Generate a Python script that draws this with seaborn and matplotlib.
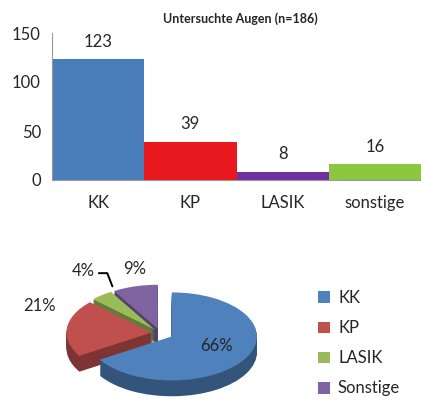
import numpy as np
import pandas as pd
import matplotlib
matplotlib.use("Agg")
import matplotlib.pyplot as plt
import matplotlib.colors as mcolors
from matplotlib.patches import Patch
import seaborn as sns

# data
cats = ["KK", "KP", "LASIK", "sonstige"]
counts = [123, 39, 8, 16]
bar_colors = ["#4a7ebb", "#e8191e", "#7030a0", "#8dc63f"]

pie_labels = ["KK", "KP", "LASIK", "Sonstige"]
pie_colors = ["#4f81bd", "#c0504d", "#9bbb59", "#8064a2"]
explode = [0.16, 0.1, 0.1, 0.1]

sns.set_style("white")
plt.rcParams["font.family"] = ["Lato", "DejaVu Sans"]

fig = plt.figure(figsize=(4.21, 4.01), dpi=100)

# ---- bar chart ----
ax = fig.add_axes([52 / 421, 221 / 401, 369 / 421, 147 / 401])
df = pd.DataFrame({"cat": cats, "n": counts})
sns.barplot(data=df, x="cat", y="n", hue="cat", palette=bar_colors,
            width=1.0, legend=False, ax=ax, saturation=1, linewidth=0)
ax.set_xlim(-0.5, 3.5)
ax.set_ylim(0, 150)
ax.set_yticks([0, 50, 100, 150])
ax.set_xlabel("")
ax.set_ylabel("")
ax.tick_params(axis="y", direction="out", length=5, color="#999999",
               labelsize=12, pad=3)
ax.tick_params(axis="x", length=0, labelsize=12, pad=11)
for s in ["top", "right"]:
    ax.spines[s].set_visible(False)
ax.spines["left"].set_color("#999999")
ax.spines["bottom"].set_color("#999999")
for i, v in enumerate(counts):
    ax.text(i, v + 10, str(v), ha="center", va="bottom", fontsize=12)
fig.text(240 / 421, 1 - 19 / 401, "Untersuchte Augen (n=186)", ha="center",
         va="center", fontsize=9, fontweight="bold")

# ---- pseudo-3D pie ----
pax = fig.add_axes([0, 0, 300 / 421, 160 / 401])
pct = np.array(counts) / sum(counts) * 100
dark = [tuple(c * 0.65 for c in mcolors.to_rgb(col)) for col in pie_colors]
depth = 0.36
steps = 16
for k in range(steps, 0, -1):
    pax.pie(counts, colors=dark, explode=explode, startangle=90,
            counterclock=False, center=(0, -depth * k / steps),
            wedgeprops=dict(linewidth=0))
wedges, _ = pax.pie(counts, colors=pie_colors, explode=explode,
                    startangle=90, counterclock=False, center=(0, 0),
                    wedgeprops=dict(linewidth=0))
px, py = 85, 44
cxp, cyp = 160, 333
pax.set_xlim(-cxp / px, (300 - cxp) / px)
pax.set_ylim(-(401 - cyp) / py, (160 - (401 - cyp)) / py)
pax.set_aspect("auto")
pax.axis("off")

pax.text(0.66, -0.3, f"{pct[0]:.0f}%", ha="center", va="center", fontsize=12)
pax.text(-1.42, 0.62, f"{pct[1]:.0f}%", ha="center", va="center", fontsize=12)
pax.text(-0.9, 1.4, f"{pct[2]:.0f}%", ha="center", va="center", fontsize=12)
# leader line for the small slice
pax.plot([-0.72, -0.62, -0.56], [1.36, 1.36, 1.06], color="black", lw=1.4,
         solid_capstyle="round")
pax.text(-0.3, 1.45, f"{pct[3]:.0f}%", ha="center", va="center", fontsize=12)

handles = [Patch(facecolor=c, edgecolor="none") for c in pie_colors]
fig.legend(handles, pie_labels, loc="upper left",
           bbox_to_anchor=(303 / 421, 1 - 275 / 401), frameon=False,
           fontsize=12, handlelength=0.7, handleheight=0.7,
           handletextpad=0.5, labelspacing=0.85)

fig.savefig("out.png", dpi=100)
